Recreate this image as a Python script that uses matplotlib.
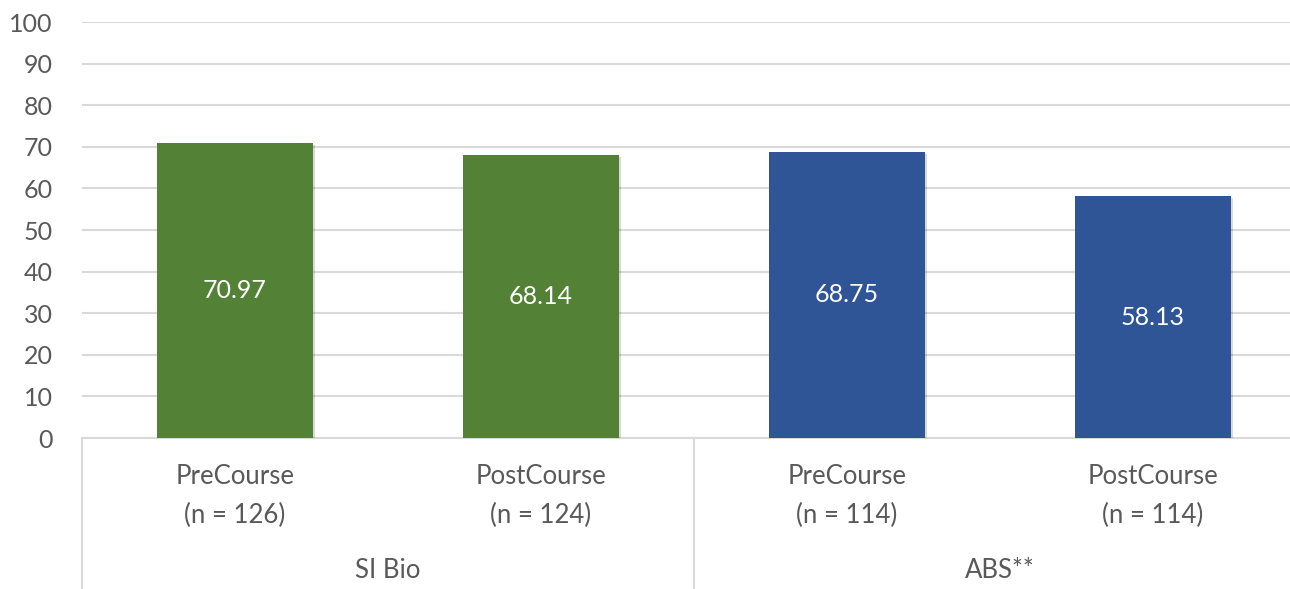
import matplotlib
matplotlib.use("Agg")
import matplotlib.pyplot as plt
import matplotlib.patheffects as pe
from matplotlib.transforms import blended_transform_factory

# Chart data
groups = ["SI Bio", "ABS**"]
conditions = ["PreCourse", "PostCourse", "PreCourse", "PostCourse"]
sample_sizes = ["(n = 126)", "(n = 124)", "(n = 114)", "(n = 114)"]
scores = [70.97, 68.14, 68.75, 58.13]
bar_groups = [0, 0, 1, 1]
group_colors = ["#538135", "#2F5597"]
y_ticks = [0, 10, 20, 30, 40, 50, 60, 70, 80, 90, 100]

plt.rcParams["font.family"] = ["Lato", "DejaVu Sans"]
text_color = "#595959"
grid_color = "#D9D9D9"

W, H = 1290, 589
fig = plt.figure(figsize=(W / 100, H / 100), dpi=100)
left, right, top, bottom = 82, 1290, 22, 438
ax = fig.add_axes([left / W, 1 - bottom / H, (right - left) / W, (bottom - top) / H])

slot = 306.0  # pixel width of one category slot
ax.set_xlim(-0.5, -0.5 + (right - left) / slot)
ax.set_ylim(0, 100)

xs = list(range(len(scores)))
colors = [group_colors[g] for g in bar_groups]
bars = ax.bar(xs, scores, width=0.507, color=colors, zorder=3)
for b in bars:
    b.set_path_effects([pe.SimplePatchShadow(offset=(1.5, -1.5), alpha=0.15, shadow_rgbFace="#000000"),
                        pe.Normal()])

for x, v in zip(xs, scores):
    ax.text(x, v / 2, f"{v:.2f}", ha="center", va="center", color="white",
            fontsize=18, zorder=4)

ax.set_yticks(y_ticks)
ax.set_yticklabels([str(t) for t in y_ticks], fontsize=18, color=text_color)
ax.tick_params(axis="y", length=0, pad=21)
ax.tick_params(axis="x", length=0, labelbottom=False)
ax.yaxis.grid(True, color=grid_color, linewidth=1.5, zorder=0)
ax.set_axisbelow(True)
for s in ["top", "right", "left"]:
    ax.spines[s].set_visible(False)
ax.spines["bottom"].set_color(grid_color)
ax.spines["bottom"].set_linewidth(1.5)

# Two-level category labels below the axis
trans = blended_transform_factory(ax.transData, fig.transFigure)
def fy(py):
    return 1 - py / H

for x, c, n in zip(xs, conditions, sample_sizes):
    ax.text(x, fy(477), c, transform=trans, ha="center", va="center",
            fontsize=18.5, color=text_color, clip_on=False)
    ax.text(x, fy(515), n, transform=trans, ha="center", va="center",
            fontsize=18.5, color=text_color, clip_on=False)

for gi, g in enumerate(groups):
    members = [x for x, bg in zip(xs, bar_groups) if bg == gi]
    cx = sum(members) / len(members)
    ax.text(cx, fy(571), g, transform=trans, ha="center", va="center",
            fontsize=18.5, color=text_color, clip_on=False)

# Vertical separators between groups
for sep in [-0.5, 1.5]:
    ax.plot([sep, sep], [fy(bottom), 0], transform=trans, color=grid_color,
            linewidth=1.5, clip_on=False)

fig.savefig("out.png", dpi=100)
